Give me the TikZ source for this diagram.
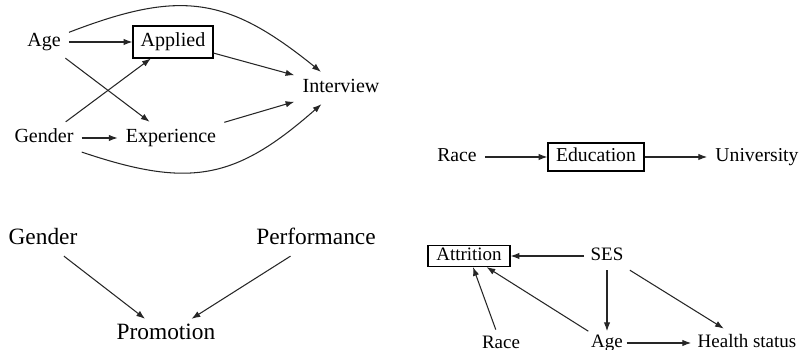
\documentclass[tikz,border=0pt]{standalone}
\usepackage{fontspec}
\setmainfont{Liberation Serif}
\usetikzlibrary{arrows.meta}

\tikzset{
    var/.style={inner sep=4.5pt, text height=0.7em, text depth=0.2em},
    obs/.style={draw, line width=0.6pt, inner sep=0pt, text height=0.7em, text depth=0.2em},
    arr/.style={-{Latex[length=5pt, width=3.6pt]}, line width=0.6pt, black!85},
}

\begin{document}
\begin{tikzpicture}[x=0.02cm, y=0.02cm]
        
        \useasboundingbox (0, 0) rectangle (804, 350);
        
        % Grafo 1: candidatura
        \begin{scope}[font=\fontsize{11.4}{13}\selectfont]
        \node[var] (age) at (44, 308) {Age};
        \node[obs, minimum width=1.6cm, minimum height=0.64cm] (applied) at (173, 308) {Applied};
        \node[var] (interview) at (341, 262) {Interview};
        \node[var] (gender) at (44, 212) {Gender};
        \node[var] (experience) at (171, 212) {Experience};
        
        \draw[arr] (age) -- (applied);
        \draw[arr] (age) -- (experience);
        \draw[arr] (gender) -- (applied);
        \draw[arr] (gender) -- (experience);
        \draw[arr] (applied) -- (interview);
        \draw[arr] (experience) -- (interview);
        \draw[arr] (age) to[bend left=30, looseness=1.2] (interview);
        \draw[arr] (gender) to[bend right=30, looseness=1.2] (interview);
        \end{scope}
        
        % Grafo 2: catena
        \begin{scope}[font=\fontsize{11.2}{13}\selectfont]
        \node[var] (race) at (457, 193) {Race};
        \node[obs, minimum width=1.92cm, minimum height=0.56cm] (education) at (596, 193) {Education};
        \node[var] (university) at (757, 193) {University};
        
        \draw[arr] (race) -- (education);
        \draw[arr] (education) -- (university);
        \end{scope}
        
        % Grafo 3: collider
        \begin{scope}[font=\fontsize{13.3}{15}\selectfont]
        \node[var] (gender2) at (43, 110) {Gender};
        \node[var] (performance) at (316, 110) {Performance};
        \node[var] (promotion) at (166, 15) {Promotion};
        
        \draw[arr] (gender2) -- (promotion);
        \draw[arr] (performance) -- (promotion);
        \end{scope}
        
        % Grafo 4: abbandono
        \begin{scope}[font=\fontsize{10.8}{12}\selectfont]
        \node[obs, minimum width=1.64cm, minimum height=0.42cm] (attrition) at (469, 94) {Attrition};
        \node[var, inner sep=3.5pt] (ses) at (607, 94) {SES};
        \node[var, inner sep=3.5pt] (race2) at (501, 6) {Race};
        \node[var, inner sep=2pt] (age2) at (607, 7) {Age};
        \node[var, inner sep=3.5pt] (health) at (747, 7) {Health status};
        
        \draw[arr] (ses) -- (attrition);
        \draw[arr] (ses) -- (age2);
        \draw[arr] (ses) -- (health);
        \draw[arr] (age2) -- (health);
        \draw[arr] (age2) -- (attrition);
        \draw[arr] (race2) -- (attrition);
        \end{scope}
        
    \end{tikzpicture}
\end{document}
